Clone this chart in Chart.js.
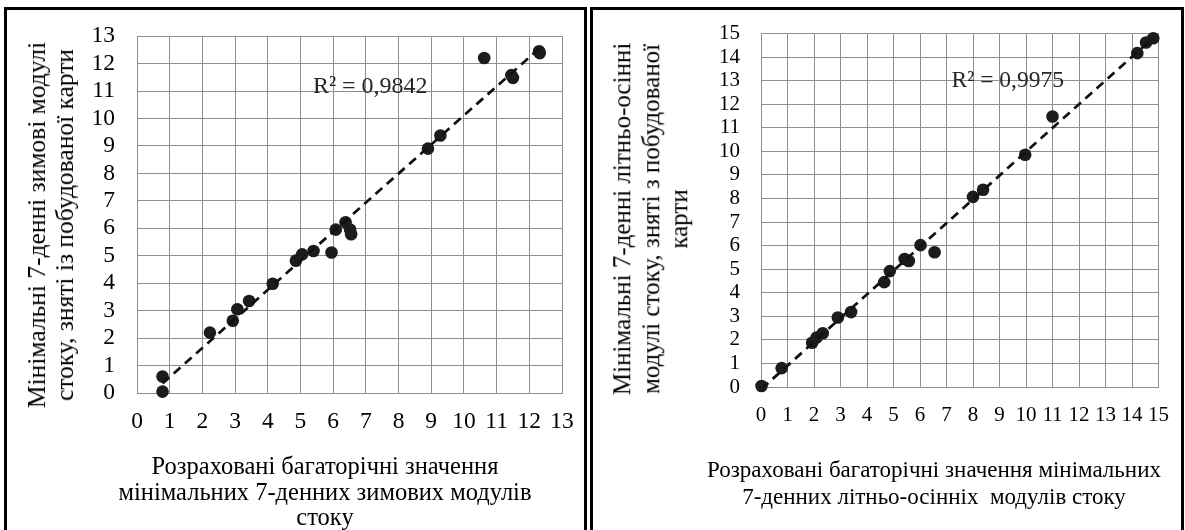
<!DOCTYPE html>
<html><head><meta charset="utf-8">
<script src="https://cdn.jsdelivr.net/npm/chart.js@4"></script>
<style>
html,body{margin:0;padding:0;background:#fff;width:1185px;height:530px;overflow:hidden;position:relative;font-family:"Liberation Serif","Times New Roman",serif;}
.panel{position:absolute;top:7px;height:540px;border:3px solid #000;border-bottom:none;box-sizing:border-box;}
canvas{position:absolute;top:0;}
.xt{position:absolute;transform:translateX(-50%);text-align:center;white-space:pre;color:#000;}
.yt{position:absolute;transform:translate(-50%,-50%) rotate(-90deg);text-align:center;white-space:pre;color:#000;}
</style></head><body>
<div class="panel" style="left:4px;width:583px"></div>
<div class="panel" style="left:590px;width:594px"></div>
<canvas id="c1" width="590" height="530" style="left:0px"></canvas>
<canvas id="c2" width="595" height="530" style="left:590px"></canvas>
<div class="yt" style="left:51px;top:225px;font-size:25.5px;line-height:28px">Мінімальні 7-денні зимові модулі<br>стоку, зняті із побудованої карти</div>
<div class="xt" style="left:325px;top:453px;font-size:24.5px;line-height:25.5px">Розраховані багаторічні значення<br>мінімальних 7-денних зимових модулів<br>стоку</div>
<div class="yt" style="left:651px;top:219px;font-size:25px;line-height:28.5px">Мінімальні 7-денні літньо-осінні<br>модулі стоку, зняті з побудованої<br>карти</div>
<div class="xt" style="left:934px;top:456px;font-size:23px;line-height:27px">Розраховані багаторічні значення мінімальних<br>7-денних літньо-осінніх  модулів стоку</div>
<script>
// ---- data ----
const winterX = [0.78, 0.78, 2.23, 2.93, 3.07, 3.43, 4.15, 4.86, 5.05, 5.40, 5.95, 6.08, 6.38, 6.52, 6.55, 8.90, 9.28, 10.62, 11.45, 11.50, 12.30, 12.32];
const winterY = [0.60, 0.05, 2.20, 2.63, 3.05, 3.35, 3.98, 4.82, 5.05, 5.17, 5.12, 5.95, 6.22, 5.95, 5.78, 8.90, 9.38, 12.20, 11.58, 11.48, 12.45, 12.38];
const summerX = [0.02, 0.78, 1.93, 2.10, 2.33, 2.90, 3.40, 4.65, 4.86, 5.42, 5.58, 6.02, 6.55, 8.00, 8.38, 9.97, 11.00, 14.20, 14.53, 14.80];
const summerY = [0.04, 0.80, 1.88, 2.10, 2.28, 2.95, 3.18, 4.45, 4.92, 5.43, 5.35, 6.02, 5.72, 8.07, 8.37, 9.86, 11.48, 14.17, 14.62, 14.80];
const winterTicks = ['0','1','2','3','4','5','6','7','8','9','10','11','12','13'];
const summerTicks = ['0','1','2','3','4','5','6','7','8','9','10','11','12','13','14','15'];
const winterR2 = 'R² = 0,9842';
const summerR2 = 'R² = 0,9975';
const winterR2At = [5.38, 11.16];
const summerR2At = [7.19, 12.99];

Chart.defaults.font.family = '"Liberation Serif","Times New Roman",serif';
Chart.defaults.color = '#000';

function pts(xs, ys){ return xs.map((x,i)=>({x:x, y:ys[i]})); }
function trend(xs, ys){
  const n = xs.length;
  const mx = xs.reduce((a,b)=>a+b,0)/n, my = ys.reduce((a,b)=>a+b,0)/n;
  let sxy = 0, sxx = 0;
  for (let i=0;i<n;i++){ sxy += (xs[i]-mx)*(ys[i]-my); sxx += (xs[i]-mx)*(xs[i]-mx); }
  const b = sxy/sxx, a = my - b*mx;
  const lo = Math.min(...xs), hi = Math.max(...xs);
  return [{x:lo, y:a+b*lo}, {x:hi, y:a+b*hi}];
}
const r2Plugin = {
  id: 'r2',
  afterDatasetsDraw(chart, args, opts){
    const {ctx, scales:{x, y}} = chart;
    ctx.save();
    ctx.font = opts.size + 'px "Liberation Serif"';
    ctx.fillStyle = '#262626';
    ctx.textAlign = 'left';
    ctx.textBaseline = 'middle';
    ctx.fillText(opts.text, x.getPixelForValue(opts.at[0]), y.getPixelForValue(opts.at[1]));
    ctx.restore();
  }
};
const GRID = '#8f8f8f';
function makeChart(id, xs, ys, maxV, labels, r2Text, r2At, g){
  return new Chart(document.getElementById(id), {
    type: 'scatter',
    data: { datasets: [
      { data: trend(xs, ys), showLine: true, borderColor: '#111', borderWidth: 2.75, borderDash: [9, 6], pointRadius: 0, fill: false, order: 0 },
      { data: pts(xs, ys), pointRadius: g.r, pointHoverRadius: g.r, pointBackgroundColor: '#1c1c1c', pointBorderWidth: 0, clip: false, order: 1 }
    ]},
    options: {
      responsive: false, animation: false, devicePixelRatio: 1,
      layout: { padding: { left: g.pl, right: g.pr, top: g.pt, bottom: 0 } },
      plugins: { legend: { display: false }, tooltip: { enabled: false }, r2: { text: r2Text, at: r2At, size: g.rs } },
      scales: {
        x: { type: 'linear', position: 'bottom', min: 0, max: maxV,
             ticks: { stepSize: 1, autoSkip: false, maxRotation: 0, padding: g.xpad, color: '#000', font: { size: g.tf }, callback: v => labels[v] },
             grid: { color: GRID, drawTicks: false, lineWidth: 1 }, border: { color: GRID },
             afterFit: s => { s.height = g.xh; } },
        y: { type: 'linear', position: 'left', min: 0, max: maxV,
             ticks: { stepSize: 1, autoSkip: false, padding: g.ypad, color: '#000', font: { size: g.tf }, callback: v => labels[v] },
             grid: { color: GRID, drawTicks: false, lineWidth: 1 }, border: { color: GRID },
             afterFit: s => { s.width = g.yw; } }
      }
    },
    plugins: [r2Plugin]
  });
}
makeChart('c1', winterX, winterY, 13, winterTicks, winterR2, winterR2At,
  { pl: 8, pr: 28, pt: 32, yw: 129, xh: 137, tf: 23.5, ypad: 22, xpad: 15, r: 6.3, rs: 24 });
makeChart('c2', summerX, summerY, 15, summerTicks, summerR2, summerR2At,
  { pl: 4, pr: 13, pt: 32, yw: 167, xh: 143, tf: 21, ypad: 21, xpad: 16, r: 6.3, rs: 23.5 });
</script>
</body></html>
